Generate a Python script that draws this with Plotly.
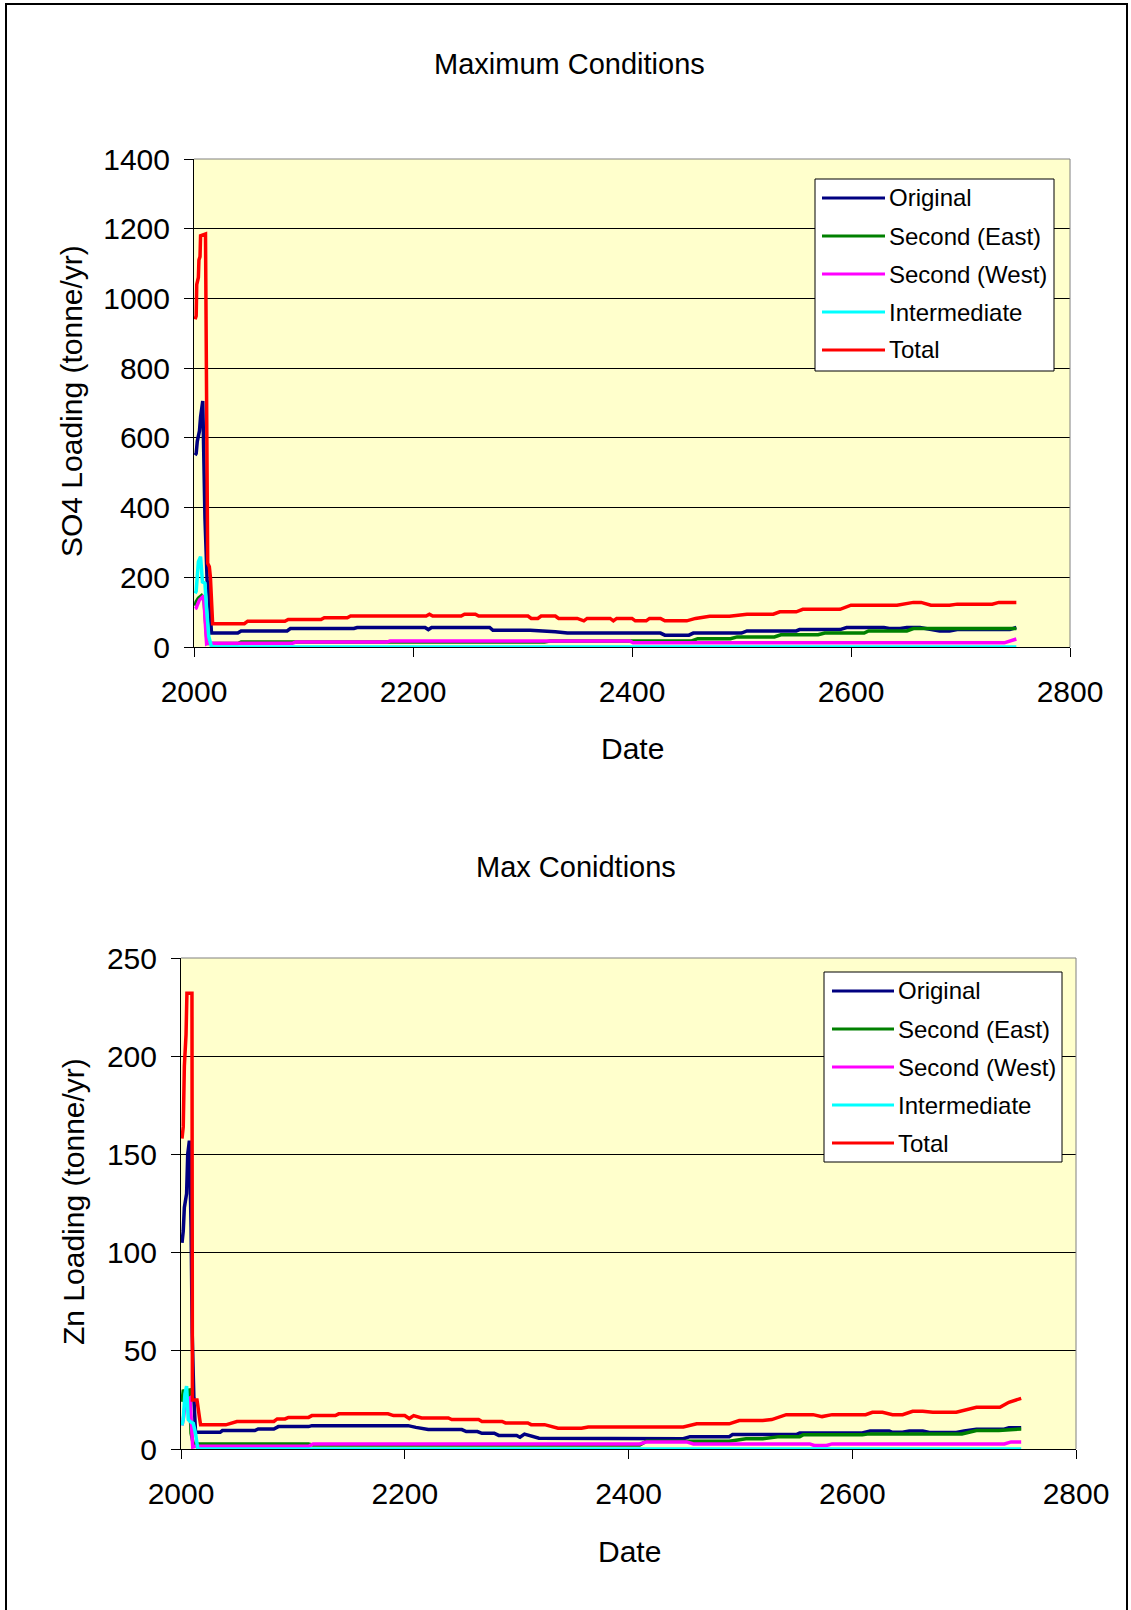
import plotly.graph_objects as go

# ---------------- SO4 loading (tonne/yr) ----------------
so4_original_yr = [2001, 2002, 2003, 2005, 2006, 2008, 2010, 2011, 2012, 2013, 2015, 2016,
                   2040, 2043, 2085, 2088, 2146, 2149, 2211, 2214, 2217, 2270, 2273, 2307,
                   2330, 2341, 2426, 2430, 2452, 2456, 2500, 2505, 2550, 2553, 2590, 2596,
                   2630, 2635, 2645, 2651, 2663, 2675, 2681, 2690, 2697, 2745, 2751]
so4_original = [550, 555, 590, 620, 660, 706, 370, 226, 190, 180, 60, 40,
                40, 46, 46, 53, 53, 56, 56, 50, 56, 56, 48, 48,
                44, 40, 40, 34, 34, 40, 40, 46, 46, 50, 50, 56,
                56, 53, 53, 56, 56, 50, 46, 46, 50, 50, 56]

so4_east_yr = [2001, 2002, 2004, 2007, 2009, 2011, 2012, 2040, 2043, 2320, 2325, 2454,
               2460, 2490, 2496, 2530, 2536, 2570, 2576, 2612, 2616, 2651, 2657, 2751]
so4_east = [118, 130, 140, 148, 140, 30, 10, 10, 14, 14, 17, 17,
            24, 24, 29, 29, 35, 35, 40, 40, 46, 46, 53, 53]

so4_west_yr = [2001, 2002, 2003, 2005, 2008, 2009, 2010.5, 2011.5, 2012, 2090, 2093,
               2176, 2179, 2398, 2401, 2740, 2751]
so4_west = [110, 112, 120, 135, 144, 140, 60, 10, 11, 11, 14,
            14, 17, 17, 12, 12, 23]

so4_inter_yr = [2001, 2002, 2004, 2006, 2007.7, 2010, 2011.5, 2013.5, 2016, 2751]
so4_inter = [154, 160, 245, 259, 187, 183, 108, 30, 0, 0]

so4_total_yr = [2001, 2002, 2002.5, 2004, 2004.5, 2005.5, 2006, 2010.5,
                2012.5, 2014, 2015, 2016, 2017,
                2046, 2049, 2083, 2086, 2116, 2119, 2140, 2143,
                2212, 2215, 2218, 2244, 2247, 2257, 2260,
                2305, 2308, 2314, 2317, 2330, 2333, 2350, 2356, 2359,
                2380, 2383, 2386, 2400, 2403, 2413, 2416, 2426, 2430,
                2450, 2458, 2471, 2489, 2505, 2529, 2535, 2550, 2556, 2590,
                2600, 2642, 2657, 2664, 2673, 2690, 2697, 2729, 2735, 2751]
so4_total = [940, 950, 1040, 1060, 1110, 1120, 1180, 1185,
             240, 230, 200, 120, 67,
             67, 74, 74, 79, 79, 84, 84, 89,
             89, 94, 89, 89, 94, 94, 89,
             89, 82, 82, 89, 89, 82, 82, 75, 82,
             82, 75, 82, 82, 75, 75, 82, 82, 75,
             75, 82, 88, 88, 94, 94, 101, 101, 108, 108,
             120, 120, 128, 128, 120, 120, 123, 123, 128, 128]

# ---------------- Zn loading (tonne/yr) ----------------
zn_original_yr = [2000.9, 2002, 2003, 2005, 2006, 2007.5, 2009, 2010, 2011.5, 2013,
                  2017, 2035, 2037, 2066, 2069, 2083, 2087, 2114, 2117, 2203,
                  2210, 2221, 2251, 2255, 2265, 2269, 2280, 2284, 2300, 2303,
                  2307, 2314, 2320, 2449, 2455, 2490, 2493, 2550, 2553, 2609,
                  2616, 2633, 2636, 2645, 2651, 2663, 2669, 2693, 2700, 2711,
                  2735, 2740, 2751]
zn_original = [105, 111, 123, 130, 150, 157, 113, 59, 26, 8.5,
               8.5, 8.5, 9.4, 9.4, 10.2, 10.2, 11.4, 11.4, 11.9, 11.9,
               11, 9.9, 9.9, 8.9, 8.9, 8, 8, 6.9, 6.9, 6,
               7.6, 6.5, 5.5, 5.2, 6.3, 6.3, 7.4, 7.4, 8.2, 8.2,
               9.2, 9.2, 8.5, 8.5, 9.2, 9.2, 8.4, 8.4, 9.2, 10,
               10, 10.8, 10.8]

zn_east_yr = [2000.9, 2002, 2007.5, 2009, 2011, 2114, 2118, 2410, 2416, 2490, 2505,
              2520, 2535, 2553, 2556, 2609, 2615, 2698, 2711, 2731, 2751]
zn_east = [24, 29.5, 30, 8, 2.6, 2.6, 2.0, 2.0, 4, 4, 5.2,
           5.2, 6.3, 6.3, 7.2, 7.2, 7.7, 7.7, 9.4, 9.4, 10.2]

zn_west_yr = [2000.9, 2002, 2003.5, 2005, 2008, 2009, 2010.5, 2013, 2114, 2118,
              2410, 2416, 2452, 2458, 2562, 2566, 2577, 2582, 2736, 2742, 2751]
zn_west = [12, 15, 22, 25, 26, 15, 1, 1.4, 1.4, 2.6,
           2.6, 3.6, 3.6, 2.6, 2.6, 1.8, 1.8, 2.6, 2.6, 3.6, 3.6]

zn_inter_yr = [2000.9, 2002, 2003.5, 2005, 2006.5, 2008, 2011, 2013, 2015, 2751]
zn_inter = [12, 15, 28, 32, 15, 14, 13, 8, 0, 0]

zn_total_yr = [2000.9, 2002, 2003, 2004.5, 2005.3, 2009.8, 2010.2, 2014.3, 2016.5, 2017.5,
               2040, 2045, 2050, 2083, 2086, 2093, 2096, 2114, 2117, 2138,
               2141, 2185, 2190, 2200, 2204, 2208, 2215, 2239, 2242, 2266,
               2269, 2287, 2290, 2310, 2313, 2325, 2330, 2337, 2358, 2364,
               2449, 2461, 2490, 2499, 2520, 2528, 2541, 2565, 2573, 2582,
               2612, 2618, 2627, 2636, 2645, 2654, 2663, 2672, 2693, 2702,
               2711, 2732, 2740, 2751]
zn_total = [158, 164, 195, 211, 232, 232, 25, 25, 16, 12.3,
            12.3, 13, 14, 14, 15.3, 15.3, 16.1, 16.1, 17, 17,
            17.9, 17.9, 17, 17, 15.5, 17, 15.8, 15.8, 15, 15,
            14, 14, 13.3, 13.3, 12.4, 12.4, 11.5, 10.6, 10.6, 11.2,
            11.2, 12.8, 12.8, 14.5, 14.5, 15, 17.5, 17.5, 16.5, 17.5,
            17.5, 18.7, 18.7, 17.5, 17.5, 19.2, 19.2, 18.7, 18.7, 19.8,
            21.2, 21.2, 23.8, 25.8]

series_names = ["Original", "Second (East)", "Second (West)", "Intermediate", "Total"]
series_colors = ["#000080", "#008000", "#FF00FF", "#00FFFF", "#FF0000"]

so4_series = [(so4_original_yr, so4_original), (so4_east_yr, so4_east),
              (so4_west_yr, so4_west), (so4_inter_yr, so4_inter),
              (so4_total_yr, so4_total)]
zn_series = [(zn_original_yr, zn_original), (zn_east_yr, zn_east),
             (zn_west_yr, zn_west), (zn_inter_yr, zn_inter),
             (zn_total_yr, zn_total)]

W, H = 1131, 1610
FONT = "Liberation Sans, Arial, sans-serif"


def px(x):
    return x / W


def py(y):
    return 1 - y / H


fig = go.Figure()

for (xs, ys), name, color in zip(so4_series, series_names, series_colors):
    fig.add_trace(go.Scatter(x=xs, y=ys, name=name, mode="lines",
                             line=dict(color=color, width=3.5),
                             xaxis="x", yaxis="y", showlegend=False))
for (xs, ys), name, color in zip(zn_series, series_names, series_colors):
    fig.add_trace(go.Scatter(x=xs, y=ys, name=name, mode="lines",
                             line=dict(color=color, width=3.5),
                             xaxis="x2", yaxis="y2", showlegend=False))

# plot-area pixel boxes: (left, right, top, bottom)
box1 = (194, 1070, 159, 647)
box2 = (181, 1076, 958, 1449)

axis_common = dict(
    showline=True, linecolor="black", linewidth=1,
    ticks="outside", ticklen=9, tickcolor="black", tickwidth=1,
    tickfont=dict(family=FONT, size=30, color="black"),
    zeroline=False, automargin=False,
)

fig.update_layout(
    width=W, height=H,
    margin=dict(l=0, r=0, t=0, b=0),
    paper_bgcolor="white",
    plot_bgcolor="#FFFFCC",
    showlegend=False,
    font=dict(family=FONT, color="black"),
    xaxis=dict(domain=[px(box1[0]), px(box1[1])], anchor="y",
               range=[2000, 2800], tickvals=[2000, 2200, 2400, 2600, 2800],
               showgrid=False, ticklabelstandoff=9, **axis_common),
    yaxis=dict(domain=[py(box1[3]), py(box1[2])], anchor="x",
               range=[0, 1400], dtick=200, showgrid=True, gridcolor="black",
               gridwidth=1, ticklabelstandoff=8, **axis_common),
    xaxis2=dict(domain=[px(box2[0]), px(box2[1])], anchor="y2",
                range=[2000, 2800], tickvals=[2000, 2200, 2400, 2600, 2800],
                showgrid=False, ticklabelstandoff=9, **axis_common),
    yaxis2=dict(domain=[py(box2[3]), py(box2[2])], anchor="x2",
                range=[0, 250], dtick=50, showgrid=True, gridcolor="black",
                gridwidth=1, ticklabelstandoff=8, **axis_common),
)

shapes = []
annotations = []

# gray top/right borders of each plot area
for (l, r, t, b) in (box1, box2):
    shapes.append(dict(type="line", xref="paper", yref="paper",
                       x0=px(l), x1=px(r), y0=py(t), y1=py(t),
                       line=dict(color="#808080", width=1)))
    shapes.append(dict(type="line", xref="paper", yref="paper",
                       x0=px(r), x1=px(r), y0=py(t), y1=py(b),
                       line=dict(color="#808080", width=1)))

# outer frame
shapes.append(dict(type="path", xref="paper", yref="paper",
                   path=f"M {px(6)},{py(1615)} L {px(6)},{py(4)} L {px(1127)},{py(4)} L {px(1127)},{py(1615)}",
                   line=dict(color="black", width=2)))

# chart titles and axis titles
texts = [
    ("Maximum Conditions", 569, 64, 0, 29),
    ("Max Conidtions", 576, 867, 0, 29),
    ("Date", 632, 748, 0, 30),
    ("Date", 629, 1551, 0, 30),
    ("SO4 Loading (tonne/yr)", 71, 401, -90, 30),
    ("Zn Loading (tonne/yr)", 73, 1202, -90, 30),
]
for text, x, y, ang, size in texts:
    annotations.append(dict(text=text, xref="paper", yref="paper",
                            x=px(x), y=py(y), xanchor="center", yanchor="middle",
                            showarrow=False, textangle=ang,
                            font=dict(family=FONT, size=size, color="black")))

# legends
legend_boxes = [
    dict(l=815, r=1054, t=179, b=371, y0=198, line_l=822, line_r=885, text_x=887),
    dict(l=824, r=1062, t=972, b=1162, y0=991, line_l=832, line_r=894, text_x=896),
]
row_gap = 38
for lb in legend_boxes:
    shapes.append(dict(type="rect", xref="paper", yref="paper",
                       x0=px(lb["l"]), x1=px(lb["r"]), y0=py(lb["b"]), y1=py(lb["t"]),
                       fillcolor="white", line=dict(color="black", width=1)))
    for i, (name, color) in enumerate(zip(series_names, series_colors)):
        yy = lb["y0"] + i * row_gap
        shapes.append(dict(type="line", xref="paper", yref="paper",
                           x0=px(lb["line_l"]), x1=px(lb["line_r"]),
                           y0=py(yy), y1=py(yy),
                           line=dict(color=color, width=3)))
        annotations.append(dict(text=name, xref="paper", yref="paper",
                                x=px(lb["text_x"]), y=py(yy),
                                xanchor="left", yanchor="middle", showarrow=False,
                                font=dict(family=FONT, size=24, color="black")))

fig.update_layout(shapes=shapes, annotations=annotations)

fig.write_html("out.html")
